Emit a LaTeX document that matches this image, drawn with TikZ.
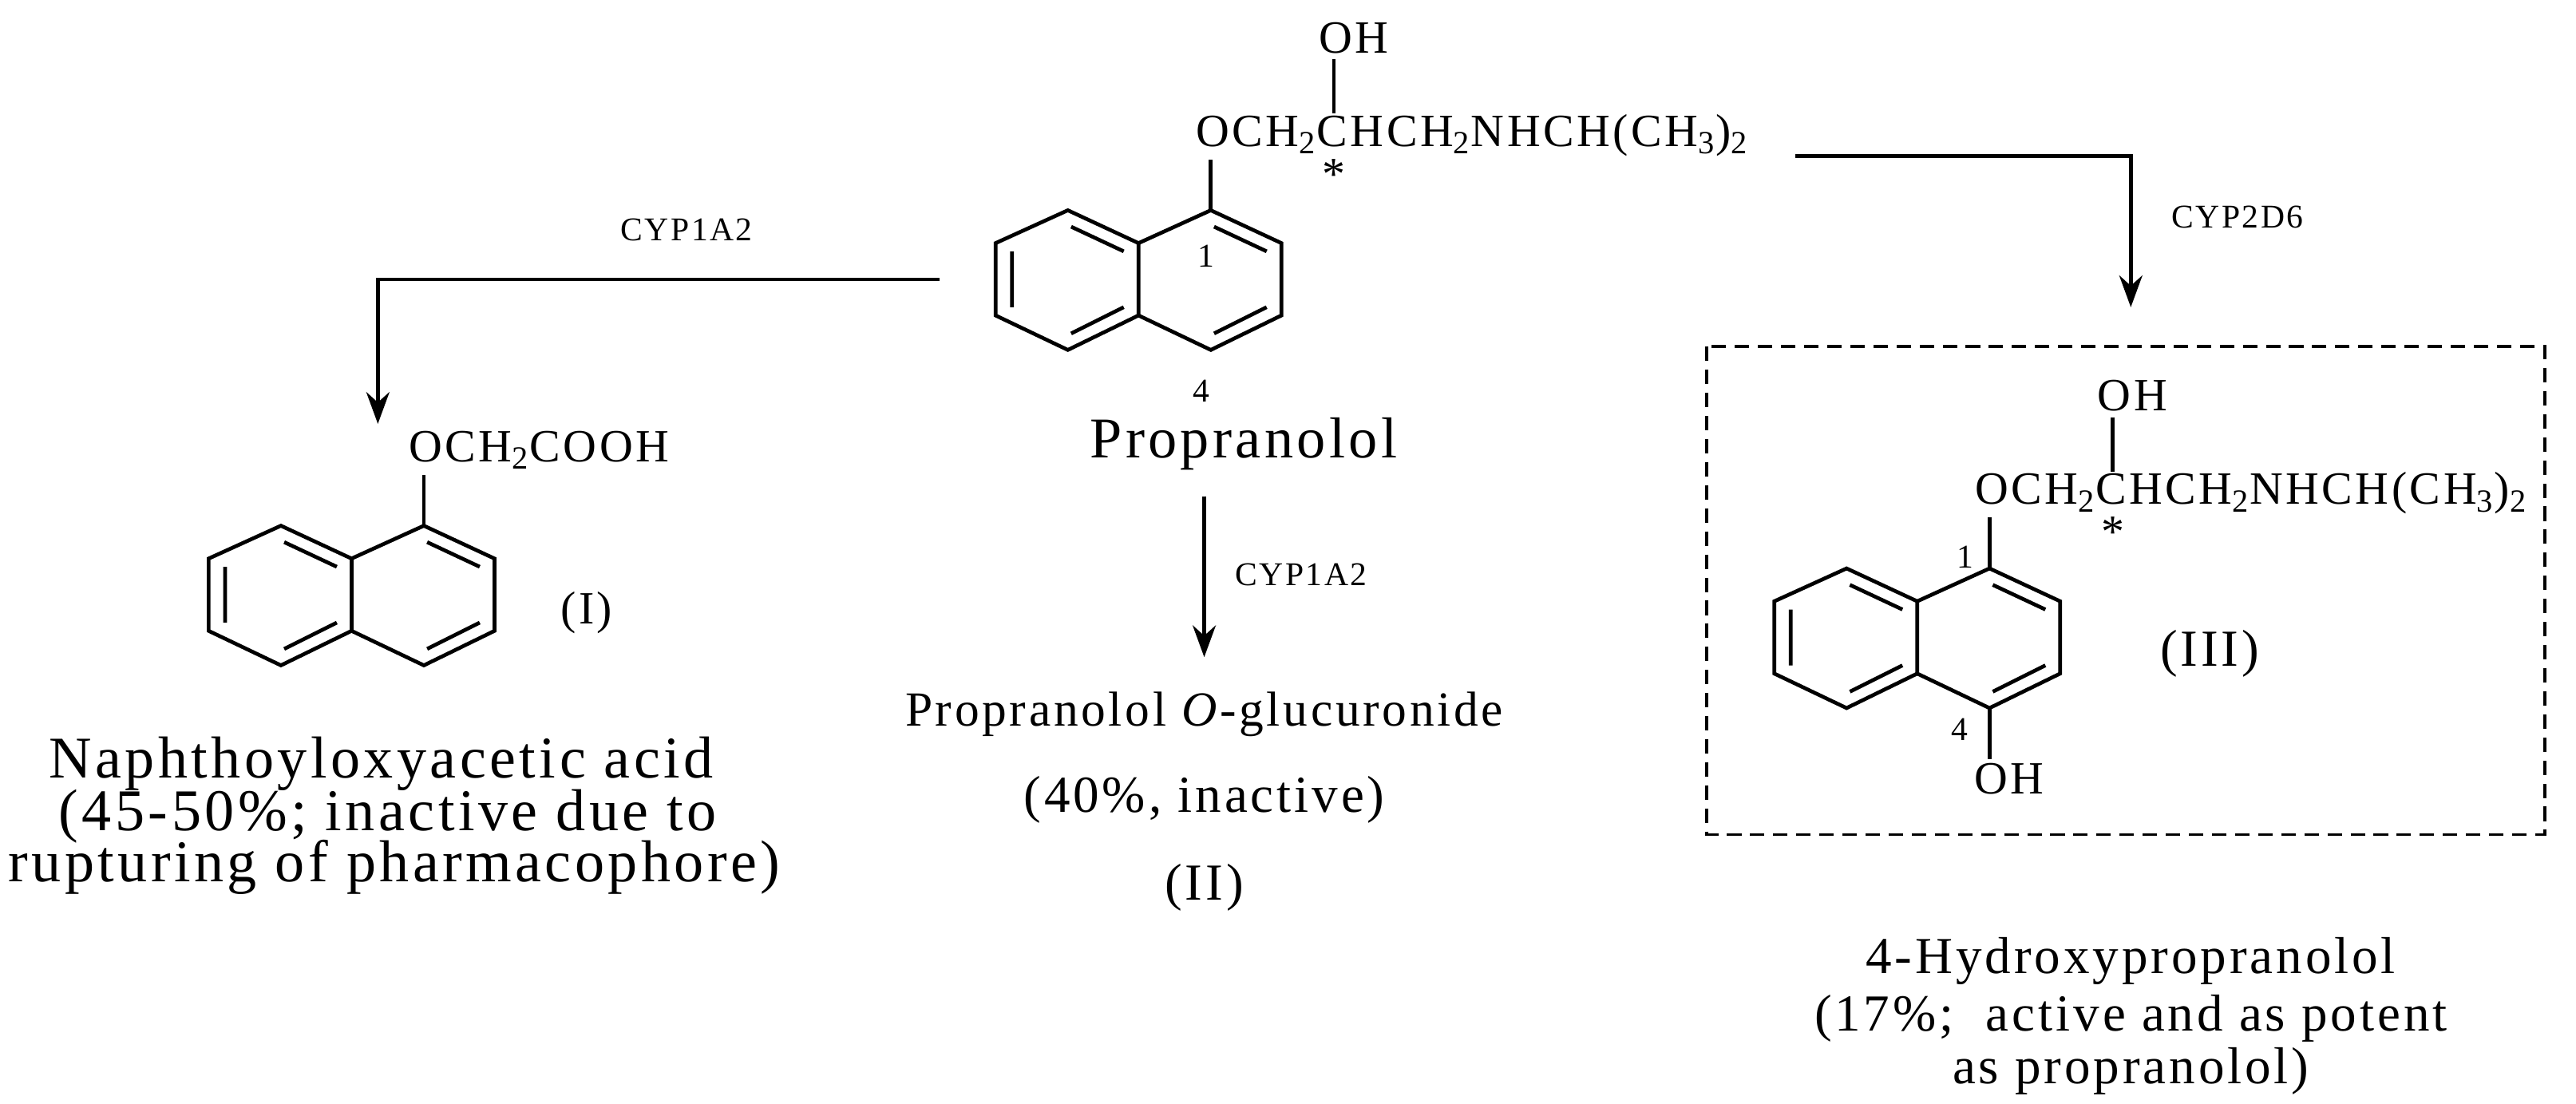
\documentclass[tikz,border=0pt]{standalone}
\usepackage{fontspec}
\setmainfont{Liberation Serif}[LetterSpace=6]
\usetikzlibrary{arrows.meta}
\begin{document}
\begin{tikzpicture}[x=0.02cm,y=-0.02cm,line width=1.3pt,
  big/.style={font=\fontsize{18}{22}\selectfont,inner sep=0pt},
  bigger/.style={font=\fontsize{20.5}{24}\selectfont,inner sep=0pt},
  form/.style={font=\fontsize{16}{19}\selectfont,inner sep=0pt},
  lab/.style={font=\fontsize{11.5}{14}\selectfont,inner sep=0pt},
  arr/.style={-{Stealth[length=11pt,width=8pt]},line width=1.3pt}]
\useasboundingbox (0,0) rectangle (1568,672);
\newcommand{\naphring}{%
  \draw (650,128)--(693,148)--(693,192)--(650,213)--(606,192)--(606,148)--cycle;
  \draw (693,148)--(737,128)--(780,148)--(780,192)--(737,213)--(693,192);
  \draw (652,138)--(684,153) (616,153)--(616,187) (652,203)--(684,187);
  \draw (739,138)--(771,153) (739,203)--(771,187);}
\newcommand{\sidechain}{%
  \draw (737,128)--(737,97);
  \node[form,anchor=base west] (f) at (727,89) {OCH\textsubscript{2}CHCH\textsubscript{2}NHCH(CH\textsubscript{3})\textsubscript{2}};
  \draw (812,36)--(812,69);
  \node[form] (oh) at (824,23) {OH};
  \node[form] (st) at (812,106) {*};}
% main
\naphring \sidechain
\node[lab] (n1) at (734,156) {1};
\node[lab] (n4) at (731,238) {4};
\node[font=\fontsize{20}{24}\selectfont,inner sep=0pt] (prop) at (757,270) {Propranolol};
% arrows
\coordinate (a1) at (572,170); \coordinate (a2) at (230,170); \coordinate (a3) at (230,258);
\draw[arr] (a1)--(a2)--(a3);
\node[lab] (c1) at (418,140) {CYP1A2};
\coordinate (b1) at (1093,95); \coordinate (b2) at (1297,95); \coordinate (b3) at (1297,187);
\draw[arr] (b1)--(b2)--(b3);
\node[lab] (c2) at (1362,132) {CYP2D6};
\coordinate (m1) at (733,302); \coordinate (m2) at (733,400);
\draw[arr] (m1)--(m2);
\node[lab] (c3) at (792,350) {CYP1A2};
% compound I
\begin{scope}[shift={(-479,192)}]
\naphring
\draw (737,128)--(737,97);
\node[form,anchor=base west] (fI) at (727,89) {OCH\textsubscript{2}COOH};
\end{scope}
\node[form] (I) at (357,373) {(I)};
\node[bigger] (t1) at (232,465) {Naphthoyloxyacetic acid};
\node[bigger] (t2) at (236,497) {(45-50\%; inactive due to};
\node[bigger] (t3) at (240,528) {rupturing of pharmacophore)};
% compound II
\node[font=\fontsize{17}{21}\selectfont,inner sep=0pt] (u1) at (733,435) {Propranolol \textit{O}-glucuronide};
\node[big] (u2) at (733,487) {(40\%, inactive)};
\node[big] (u3) at (733,540) {(II)};
% compound III
\draw[line width=1.1pt,dash pattern=on 5pt off 3pt] (1039,211) rectangle (1549,508);
\begin{scope}[shift={(474,218)}]
\naphring \sidechain
\draw (737,213)--(737,244);
\node[form] (oh2) at (749,256) {OH};
\node[lab] (m1l) at (722,121) {1};
\node[lab] (m4l) at (719,226) {4};
\end{scope}
\node[big] (III) at (1345,398) {(III)};
\node[big] (v1) at (1297,585) {4-Hydroxypropranolol};
\node[big] (v2) at (1297,620) {(17\%;~ active and as potent};
\node[big] (v3) at (1297,652) {as propranolol)};
\end{tikzpicture}
\end{document}
